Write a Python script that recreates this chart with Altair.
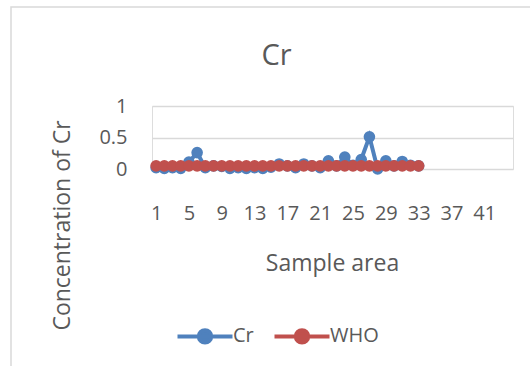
import altair as alt
import pandas as pd

samples = list(range(1, 34))
cr_values = [0.02, 0.01, 0.02, 0.01, 0.11, 0.26, 0.02, 0.05, 0.04, 0.01,
             0.02, 0.01, 0.02, 0.01, 0.03, 0.08, 0.05, 0.02, 0.08, 0.05,
             0.02, 0.13, 0.05, 0.19, 0.06, 0.15, 0.51, 0.00, 0.13, 0.05,
             0.12, 0.06, 0.05]
who_values = [0.05] * 33
series_names = ["Cr", "WHO"]
series_colors = ["#4F81BD", "#C0504D"]
x_tick_values = [1, 5, 9, 13, 17, 21, 25, 29, 33, 37, 41]
y_tick_values = [0, 0.5, 1]

rows = []
for s, v in zip(samples, cr_values):
    rows.append({"sample": s, "series": "Cr", "value": v})
for s, v in zip(samples, who_values):
    rows.append({"sample": s, "series": "WHO", "value": v})
df = pd.DataFrame(rows)

FONT = "Open Sans"
GRAY = "#595959"

color = alt.Color(
    "series:N",
    scale=alt.Scale(domain=series_names, range=series_colors),
    legend=alt.Legend(
        title=None, orient="none", direction="horizontal",
        legendX=41, legendY=218,
        symbolType="M-2.75,0L2.75,0M-0.62,0A0.62,0.62,0,1,0,0.62,0A0.62,0.62,0,1,0,-0.62,0Z",
        symbolSize=400, symbolStrokeWidth=4, labelOffset=16, columnPadding=12,
        labelFont=FONT, labelFontSize=20, labelColor=GRAY,
    ),
)

x_enc = alt.X(
    "sample:Q",
    scale=alt.Scale(domain=[0.5, 44.5], nice=False, zero=False),
    axis=alt.Axis(
        values=x_tick_values, format="d", grid=False, domain=False, ticks=False,
        tickSize=0, labelPadding=50, labelBaseline="alphabetic",
        labelFont=FONT, labelFontSize=20, labelColor=GRAY,
        title="Sample area", titleFont=FONT, titleFontSize=23,
        titleFontWeight="normal", titleColor=GRAY,
        titleX=180, titleY=101, titleBaseline="alphabetic",
    ),
)
y_enc = alt.Y(
    "value:Q",
    scale=alt.Scale(domain=[0, 1], nice=False),
    axis=alt.Axis(
        values=y_tick_values, format="~g", grid=True, gridColor="#D9D9D9",
        gridWidth=1.3, domain=False, ticks=False, tickSize=0, labelPadding=25,
        labelFont=FONT, labelFontSize=20, labelColor=GRAY,
        title="Concentration of Cr", titleFont=FONT, titleFontSize=23,
        titleFontWeight="normal", titleColor=GRAY,
        titleX=-90, titleY=119, titleBaseline="middle", titleAngle=-90,
    ),
)

base = alt.Chart(df).encode(x=x_enc, y=y_enc, color=color)

layers = []
for name in series_names:
    sub = base.transform_filter(alt.datum.series == name)
    layers.append(sub.mark_line(strokeWidth=4))
    layers.append(sub.mark_point(filled=True, size=135, opacity=1, strokeWidth=0))

frame = alt.Chart(pd.DataFrame({"k": [0]})).mark_rect(
    fill=None, stroke="#D9D9D9", strokeWidth=1.5
).encode(
    x=alt.value(-141), x2=alt.value(400), y=alt.value(-99), y2=alt.value(280)
)

chart = alt.layer(frame, *layers).properties(
    width=361, height=63,
    title=alt.TitleParams(
        "Cr", font=FONT, fontSize=29, fontWeight="normal", color=GRAY,
        anchor="middle", frame="group", dx=-56, dy=88, baseline="alphabetic", offset=0,
    ),
    autosize=alt.AutoSizeParams(type="none"),
    padding={"left": 152, "top": 106, "right": 17, "bottom": 197},
).configure_view(stroke=None).configure(background="white")

chart.save("out.html", embed_options={"renderer": "svg", "actions": False})
